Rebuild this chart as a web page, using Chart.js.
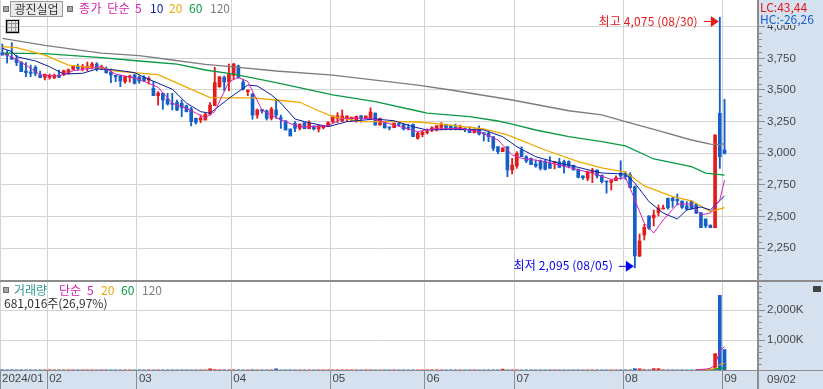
<!DOCTYPE html>
<html>
<head>
<meta charset="utf-8">
<script src="https://cdn.jsdelivr.net/npm/chart.js@4"></script>
<style>
  html, body { margin: 0; padding: 0; background: #d6e1f0; overflow: hidden; }
  #wrap { position: relative; width: 823px; height: 389px; font: 12px "Noto Sans CJK KR", sans-serif; }
  #wrap canvas { position: absolute; left: 0; top: 0; }
  .t { position: absolute; line-height: 14px; white-space: nowrap; }
  .chip { position: absolute; width: 4px; height: 4px; background: #a8a8a8; border: 1px solid #6e6e6e; }
</style>
</head>
<body>
<div id="wrap">
  <canvas id="myChart" width="823" height="389"></canvas>

  <div class="chip" style="left:3px;top:6px"></div>
  <div class="t" style="left:10px;top:1px;width:51px;height:14px;background:#e9e9e9;border:1px solid #9a9a9a;text-align:center;color:#333">광진실업</div>
  <div class="chip" style="left:67px;top:6px"></div>
  <div class="t" style="left:79px;top:1px;color:#d01fb0;word-spacing:2px;letter-spacing:.5px">종가 단순</div>
  <div class="t" style="left:135px;top:1px;color:#d01fb0">5</div>
  <div class="t" style="left:150px;top:1px;color:#0b1f9e">10</div>
  <div class="t" style="left:169px;top:1px;color:#eea800">20</div>
  <div class="t" style="left:189px;top:1px;color:#0a9a44">60</div>
  <div class="t" style="left:210px;top:1px;color:#7d7d7d">120</div>

  <div id="gridIcon" style="position:absolute;left:6px;top:20px;width:11px;height:11px;border:1px solid #000;outline:1px solid #ccc;background:repeating-linear-gradient(90deg,#999 0 1px,transparent 1px 4px),repeating-linear-gradient(0deg,#999 0 1px,transparent 1px 4px),#e4e4e4"></div>

  <div class="t" style="left:759px;top:0;width:64px;height:25px;background:#d6e1f0"></div>
  <div class="t" style="left:760px;top:0;color:#e01818">LC:43,44</div>
  <div class="t" style="left:760px;top:12px;color:#1560c8">HC:-26,26</div>

  <div class="chip" style="left:3px;top:287px"></div>
  <div class="t" style="left:14px;top:283px;color:#2e9a96">거래량</div>
  <div class="t" style="left:59px;top:283px;color:#d01fb0">단순</div>
  <div class="t" style="left:87px;top:283px;color:#d01fb0">5</div>
  <div class="t" style="left:101px;top:283px;color:#eea800">20</div>
  <div class="t" style="left:121px;top:283px;color:#0a9a44">60</div>
  <div class="t" style="left:142px;top:283px;color:#7d7d7d">120</div>
  <div class="t" style="left:4px;top:296px;color:#333">681,016주(26,97%)</div>

  <div style="position:absolute;left:813px;top:286px;width:8px;height:6px;background:#444"></div>
  <div class="t" style="left:767px;top:372px;color:#444;font:11.5px 'Liberation Sans',sans-serif;line-height:14px">09/02</div>
</div>

<script>
const monthStarts = [0, 10, 29, 49, 70, 90, 109, 132, 153];
const monthLabels = ['2024/01', '02', '03', '04', '05', '06', '07', '08', '09'];

const opens = [3795,3790,3758,3745,3719,3650,3642,3679,3618,3600,3600,3597,3618,3621,3632,3664,3687,3671,3674,3676,3705,3676,3671,3640,3616,3611,3566,3600,3618,3603,3600,3579,3513,3455,3474,3429,3395,3403,3395,3376,3350,3276,3263,3263,3310,3376,3526,3600,3563,3616,3690,3561,3487,3466,3302,3347,3336,3276,3342,3281,3257,3192,3237,3197,3242,3194,3216,3192,3202,3216,3250,3276,3257,3279,3273,3255,3297,3276,3276,3318,3223,3242,3205,3202,3231,3226,3205,3229,3118,3147,3163,3184,3184,3205,3229,3216,3210,3190,3197,3190,3163,3190,3163,3158,3131,3052,3013,3052,2868,2900,3026,2973,2960,2915,2941,2934,2921,2926,2931,2934,2934,2905,2874,2821,2802,2847,2868,2826,2781,2771,2783,2842,2829,2829,2736,2189,2355,2505,2491,2531,2560,2644,2644,2636,2623,2584,2623,2599,2531,2481,2433,2412,3316,3026];
const closes = [3776,3774,3743,3716,3645,3637,3632,3632,3597,3624,3613,3618,3600,3652,3660,3687,3671,3684,3690,3705,3666,3684,3637,3618,3603,3571,3605,3611,3553,3571,3571,3592,3455,3476,3421,3389,3387,3342,3360,3329,3250,3245,3279,3308,3381,3558,3605,3563,3626,3705,3600,3508,3500,3302,3342,3334,3276,3350,3302,3269,3184,3137,3197,3231,3194,3237,3192,3218,3216,3242,3295,3295,3295,3295,3284,3292,3281,3295,3326,3223,3276,3200,3200,3239,3226,3192,3197,3131,3158,3166,3171,3202,3216,3231,3197,3197,3194,3210,3184,3163,3190,3152,3155,3131,3039,3013,3039,2868,2907,3000,2973,2939,2910,2900,2881,2874,2881,2934,2889,2900,2900,2868,2810,2807,2855,2862,2821,2776,2773,2789,2807,2821,2815,2728,2189,2307,2415,2407,2512,2565,2565,2570,2625,2625,2573,2558,2562,2526,2412,2426,2412,3145,2973,3000];
const highs = [3863,3810,3874,3776,3724,3716,3697,3692,3650,3626,3626,3626,3658,3658,3666,3692,3705,3703,3721,3719,3716,3697,3682,3666,3618,3618,3611,3618,3626,3611,3611,3605,3566,3487,3476,3474,3474,3421,3421,3381,3363,3279,3302,3316,3400,3679,3605,3611,3705,3711,3697,3585,3500,3474,3350,3347,3342,3363,3426,3302,3257,3192,3250,3231,3242,3257,3216,3218,3216,3250,3295,3321,3342,3295,3287,3295,3297,3295,3360,3318,3279,3247,3208,3239,3237,3231,3231,3231,3168,3176,3192,3210,3220,3242,3231,3223,3231,3223,3200,3210,3192,3216,3163,3178,3131,3052,3046,3052,2960,3013,3052,2981,2963,2947,2947,2947,2973,2934,2960,2947,2941,2907,2876,2821,2860,2881,2868,2829,2781,2789,2821,2941,2855,2847,2742,2362,2439,2505,2552,2591,2591,2647,2652,2678,2623,2618,2623,2599,2531,2481,2433,3145,4075,3426];
const lows = [3776,3713,3743,3692,3645,3605,3605,3611,3597,3579,3585,3589,3597,3613,3626,3658,3658,3652,3652,3666,3650,3660,3632,3558,3566,3526,3553,3561,3547,3553,3566,3547,3455,3381,3347,3381,3342,3336,3289,3326,3216,3231,3242,3263,3302,3376,3521,3494,3494,3585,3592,3500,3455,3269,3276,3316,3263,3263,3276,3197,3184,3137,3171,3184,3194,3194,3184,3168,3192,3210,3242,3242,3250,3255,3250,3245,3245,3273,3271,3223,3223,3200,3184,3202,3216,3184,3184,3131,3111,3131,3152,3171,3176,3184,3184,3184,3184,3184,3171,3163,3160,3144,3097,3092,3020,2994,3013,2815,2836,2881,2973,2926,2910,2889,2868,2868,2881,2876,2889,2842,2884,2868,2805,2794,2783,2768,2805,2765,2686,2710,2783,2794,2794,2726,2095,2183,2315,2399,2426,2505,2560,2558,2573,2591,2565,2552,2562,2526,2412,2412,2412,2412,2881,2994];

const ma5X = [0,3,6,8,12,15,21,24,29,33,36,39,43,45,48,50,52,55,59,63,69,72,78,83,88,91,97,101,105,108,110,114,120,125,129,132,133,134,136,138,140,143,146,148,150,152,153];
const ma5 = [3792,3743,3671,3618,3611,3652,3684,3626,3585,3521,3395,3355,3281,3329,3566,3600,3566,3342,3263,3208,3216,3276,3276,3223,3171,3192,3197,3171,3105,2987,2960,2941,2889,2842,2794,2807,2726,2631,2449,2370,2473,2599,2599,2513,2528,2631,2789];
const ma10X = [0,2,3,7,10,13,17,20,24,28,31,36,39,42,44,48,52,54,57,59,62,64,69,73,79,83,87,90,95,102,106,109,113,118,122,127,132,134,137,140,143,145,148,150,153];
const ma10 = [3829,3803,3763,3729,3684,3626,3632,3666,3658,3637,3585,3506,3397,3329,3316,3434,3539,3532,3461,3397,3271,3250,3210,3250,3271,3257,3210,3184,3190,3184,3131,3052,2973,2921,2889,2844,2836,2765,2618,2528,2481,2552,2576,2552,2663];
const ma20X = [0,3,7,9,14,17,21,24,29,33,38,44,49,53,58,63,67,70,76,84,88,93,102,107,115,122,127,132,136,142,146,150,153];
const ma20 = [3842,3834,3795,3776,3697,3684,3674,3650,3634,3621,3539,3439,3437,3437,3421,3403,3336,3289,3250,3250,3247,3231,3192,3145,3026,2934,2884,2852,2742,2657,2625,2539,2570];
const ma60X = [0,9,21,29,37,43,49,58,70,79,88,90,99,105,108,113,120,127,132,138,146,149,153];
const ma60 = [3792,3788,3755,3729,3705,3658,3626,3558,3461,3408,3334,3318,3289,3255,3231,3184,3131,3092,3058,2955,2894,2844,2828];
const ma120X = [0,9,21,29,36,43,49,58,70,88,95,108,120,127,132,138,146,150,152,153];
const ma120 = [3907,3852,3792,3771,3737,3703,3682,3650,3618,3539,3500,3421,3336,3303,3250,3188,3105,3073,3069,3077];

// volume in thousands, most days barely rise off the baseline
const volumes = [8,6,6,5,8,5,5,5,5,5,5,5,5,5,5,5,5,5,5,5,5,5,5,5,5,5,5,5,5,5,5,5,5,5,5,5,5,5,5,5,5,5,5,5,40,12,8,8,6,6,8,5,5,10,5,5,5,5,40,5,5,5,5,5,5,5,5,5,5,5,5,5,5,5,5,5,5,5,5,5,5,5,5,5,5,5,5,5,5,5,5,5,5,5,5,5,5,5,5,5,5,5,5,5,5,5,30,5,5,5,5,5,5,5,5,5,5,5,5,5,5,5,5,5,5,5,5,5,5,5,5,5,5,5,45,40,12,8,45,45,8,5,5,5,5,5,5,5,5,10,30,547,2490,681];
const volMa5X = [147,149,150,151,152,153];
const volMa5 = [8,30,60,160,640,780];
const volMa20X = [147,150,151,152,153];
const volMa20 = [8,20,50,190,220];
const volMa60X = [147,151,152,153];
const volMa60 = [6,20,60,70];

const priceTicks = [2250, 2500, 2750, 3000, 3250, 3500, 3750, 4000];
const volTicks = [1000, 2000];
const priceMinor = [2050,2100,2150,2200,2300,2350,2400,2450,2550,2600,2650,2700,2800,2850,2900,2950,3050,3100,3150,3200,3300,3350,3400,3450,3550,3600,3650,3700,3800,3850,3900,3950];
const volMinor = [200,400,600,800,1200,1400,1600,1800,2200,2400,2600,2800];

const RED = '#e31b1b', BLUE = '#1560c8', GRID = '#d3d3d3', AXIS = '#8c8c8c';
const FONT = { family: '"Liberation Sans", sans-serif', size: 11.5 };
const candleColors = closes.map((c, i) => (c >= opens[i] ? RED : BLUE));
const volColors = volumes.map((v, i) => candleColors[i]);

function pts(xs, ys) { return xs.map((x, i) => ({ x: x, y: ys[i] })); }
function maLine(xs, ys, color, axis, width) {
  return { type: 'line', data: pts(xs, ys), borderColor: color, borderWidth: width, pointRadius: 0, tension: 0, yAxisID: axis, order: 1 };
}
function noPad(s) { s.paddingTop = 0; s.paddingBottom = 0; s.paddingLeft = 0; s.paddingRight = 0; }

const chartBits = {
  id: 'chartBits',
  beforeDraw(chart) {
    const a = chart.chartArea, c = chart.ctx;
    c.fillStyle = '#fff';
    c.fillRect(a.left, a.top, a.width, a.height);
  },
  afterDraw(chart) {
    const c = chart.ctx, a = chart.chartArea, y = chart.scales.y, v = chart.scales.yVol, x = chart.scales.x;
    c.save();
    // small ticks on the value axes
    c.strokeStyle = AXIS; c.lineWidth = 1; c.beginPath();
    priceMinor.forEach(p => { const py = Math.round(y.getPixelForValue(p)) + .5; c.moveTo(a.right, py); c.lineTo(a.right + 4, py); });
    volMinor.forEach(p => { const py = Math.round(v.getPixelForValue(p)) + .5; c.moveTo(a.right, py); c.lineTo(a.right + 4, py); });
    c.stroke();
    // panel separator and axis edge in the time row
    c.strokeStyle = AXIS; c.lineWidth = 2; c.beginPath();
    c.moveTo(0, v.top); c.lineTo(823, v.top);
    c.moveTo(a.right, a.bottom); c.lineTo(a.right, 389);
    c.stroke();
    c.lineWidth = 1; c.beginPath(); c.moveTo(a.right, a.bottom + .5); c.lineTo(823, a.bottom + .5); c.stroke();
    // high and low notes
    const hi = highs.indexOf(Math.max(...highs)), lo = lows.indexOf(Math.min(...lows));
    note(c, x.getPixelForValue(hi) - 1, 21, RED, '최고 4,075 (08/30)');
    note(c, x.getPixelForValue(lo) - 1, y.getPixelForValue(lows[lo]) - 2, '#0000ee', '최저 2,095 (08/05)');
    c.restore();
  }
};

function note(c, tipX, py, color, text) {
  c.fillStyle = color; c.strokeStyle = color; c.lineWidth = 1;
  c.beginPath(); c.moveTo(tipX - 15, py + .5); c.lineTo(tipX - 7, py + .5); c.stroke();
  c.beginPath(); c.moveTo(tipX, py + .5); c.lineTo(tipX - 8, py - 5); c.lineTo(tipX - 8, py + 6); c.closePath(); c.fill();
  c.font = '12px "Noto Sans CJK KR"'; c.textAlign = 'right'; c.textBaseline = 'middle'; c.letterSpacing = '0.15px';
  c.fillText(text, tipX - 21, py);
}

new Chart(document.getElementById('myChart').getContext('2d'), {
  data: {
    datasets: [
      maLine(ma5X, ma5, '#d822b4', 'y', 1),
      maLine(ma10X, ma10, '#0b1f9e', 'y', 1),
      maLine(ma20X, ma20, '#efa900', 'y', 1.3),
      maLine(ma60X, ma60, '#0a9a44', 'y', 1.3),
      maLine(ma120X, ma120, '#7d7d7d', 'y', 1.3),
      { type: 'bar', data: opens.map((o, i) => ({ x: i, y: [o, closes[i]] })), backgroundColor: candleColors, barThickness: 3, minBarLength: 1, grouped: false, yAxisID: 'y', order: 2 },
      { type: 'bar', data: lows.map((l, i) => ({ x: i, y: [l, highs[i]] })), backgroundColor: candleColors, barThickness: 1.2, grouped: false, yAxisID: 'y', order: 3 },
      maLine(volMa5X, volMa5, '#d822b4', 'yVol', 1),
      maLine(volMa20X, volMa20, '#efa900', 'yVol', 1),
      maLine(volMa60X, volMa60, '#0a9a44', 'yVol', 1.5),
      { type: 'bar', data: volumes.map((v, i) => ({ x: i, y: v })), backgroundColor: volColors, barThickness: 3, grouped: false, yAxisID: 'yVol', order: 2 }
    ]
  },
  options: {
    responsive: false,
    animation: false,
    devicePixelRatio: 1,
    layout: { padding: 0 },
    plugins: { legend: { display: false }, tooltip: { enabled: false } },
    scales: {
      x: {
        type: 'linear',
        offset: false,
        min: -0.5,
        max: 160.09,
        afterFit: s => { s.height = 19; noPad(s); },
        afterBuildTicks: s => { s.ticks = monthStarts.map(m => ({ value: m - 0.5 })); },
        border: { color: AXIS },
        grid: { color: GRID, tickColor: AXIS, tickLength: 19, offset: false },
        ticks: {
          autoSkip: false, maxRotation: 0, align: 'start', labelOffset: 2, padding: -17, color: '#444', font: FONT,
          callback: (v, i) => monthLabels[i]
        }
      },
      y: {
        position: 'right',
        stack: 'panels',
        stackWeight: 281,
        min: 1991,
        max: 4211,
        afterFit: s => { s.width = 65; noPad(s); },
        afterBuildTicks: s => { s.ticks = priceTicks.map(p => ({ value: p })); },
        border: { color: AXIS, width: 2 },
        grid: { color: GRID, tickColor: AXIS, tickLength: 7 },
        ticks: { padding: 2, color: '#444', font: FONT, callback: v => v.toLocaleString('en-US') }
      },
      yVol: {
        position: 'right',
        stack: 'panels',
        stackWeight: 89,
        min: 0,
        max: 2967,
        afterFit: s => { s.width = 65; noPad(s); },
        afterBuildTicks: s => { s.ticks = volTicks.map(p => ({ value: p })); },
        border: { color: AXIS, width: 2 },
        grid: { color: GRID, tickColor: AXIS, tickLength: 7 },
        ticks: { padding: 2, color: '#444', font: FONT, callback: v => v.toLocaleString('en-US') + 'K' }
      }
    }
  },
  plugins: [chartBits]
});
</script>
</body>
</html>
